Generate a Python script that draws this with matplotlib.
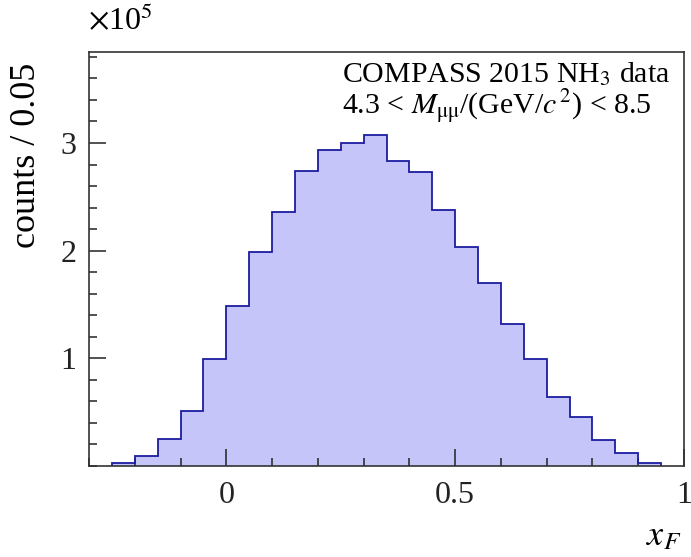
import numpy as np
import matplotlib
matplotlib.use("Agg")
import matplotlib.pyplot as plt
from matplotlib.ticker import FixedLocator, MultipleLocator, FuncFormatter

plt.rcParams["font.family"] = ["Liberation Serif", "DejaVu Serif"]
plt.rcParams["mathtext.fontset"] = "stix"

# x_F histogram, bin width 0.05
bin_edges = [round(-0.25 + 0.05 * i, 2) for i in range(25)]
counts = [2500, 9300, 25100, 51400, 99200, 148700, 198900, 236100,
          273900, 293800, 300300, 307700, 283500, 273000, 237700, 203600,
          169500, 131700, 99800, 64500, 45900, 24200, 11800, 3100]

fig = plt.figure(figsize=(6.91, 5.57), dpi=100)
ax = fig.add_axes([0.1288, 0.1634, 0.9899 - 0.1288, 0.9066 - 0.1634])

ax.stairs(counts, bin_edges, fill=True, color="#c5c5fa", zorder=1)
ax.stairs(counts, bin_edges, color="#1c1ca0", linewidth=1.3, zorder=2)

ax.set_xlim(-0.3, 1.0)
ax.set_ylim(0, 3.845e5)

ax.xaxis.set_major_locator(FixedLocator([0, 0.5, 1.0]))
ax.xaxis.set_minor_locator(MultipleLocator(0.1))
ax.xaxis.set_major_formatter(FuncFormatter(lambda v, p: "%g" % v))
ax.yaxis.set_major_locator(FixedLocator([1e5, 2e5, 3e5]))
ax.yaxis.set_minor_locator(MultipleLocator(0.2e5))
ax.yaxis.set_major_formatter(FuncFormatter(lambda v, p: "%d" % round(v / 1e5)))

ax.tick_params(which="both", direction="in", top=False, right=False,
               labelsize=23, colors="#222222")
ax.tick_params(which="major", length=12, width=1.1)
ax.tick_params(which="minor", length=6, width=1.1)
ax.tick_params(axis="x", pad=11)
ax.tick_params(axis="y", pad=9)
for s in ax.spines.values():
    s.set_color("#333333")
    s.set_linewidth(1.2)

ax.set_ylabel("counts / 0.05", fontsize=26, loc="top")
ax.yaxis.set_label_coords(-0.077, 0.973)
ax.set_xlabel("$x_F$", fontsize=26, loc="right")
ax.xaxis.set_label_coords(0.995, -0.13)

fig.text(0.127, 0.935, r"$\times$10$^5$", fontsize=23, ha="left", va="bottom")

ax.text(0.425, 0.928, r"COMPASS 2015 NH$_3$ data", transform=ax.transAxes,
        fontsize=21.5, ha="left", va="baseline")
ax.text(0.425, 0.850, r"4.3 < $M_{\mathrm{\mu\mu}}$/(GeV/$c^{\,2}$) < 8.5",
        transform=ax.transAxes, fontsize=21.5, ha="left", va="baseline")

fig.savefig("out.png", dpi=100)
